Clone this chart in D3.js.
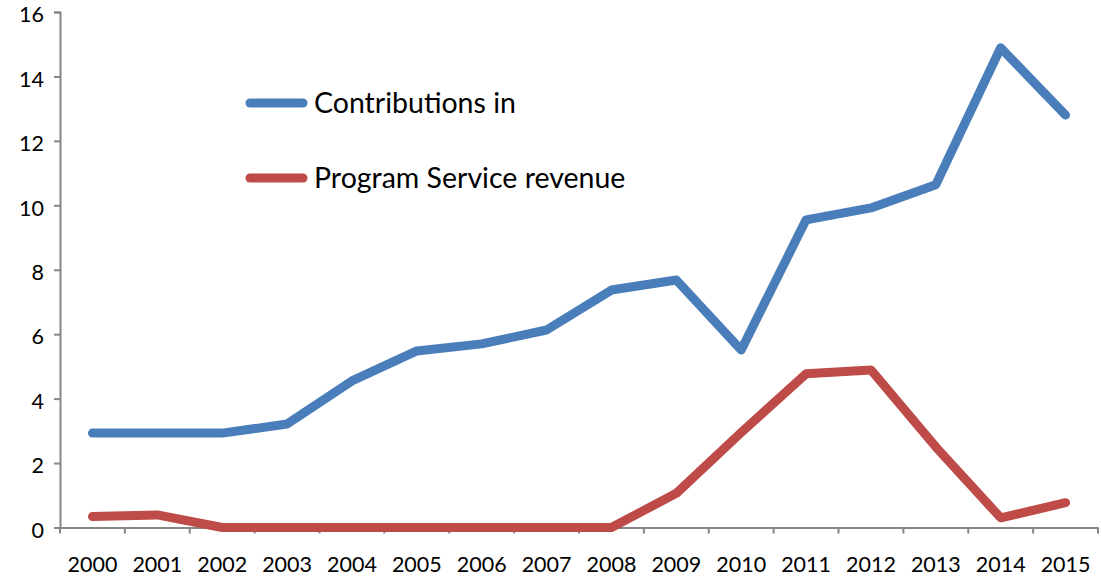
<!DOCTYPE html>
<html><head><meta charset="utf-8">
<script src="https://cdn.jsdelivr.net/npm/d3@7"></script>
<style>body{margin:0;background:#fff;} svg{display:block;font-family:Lato, "Open Sans", sans-serif;}</style>
</head><body>
<svg id="chart" width="1101" height="578"></svg>
<script>
const years = ["2000","2001","2002","2003","2004","2005","2006","2007","2008","2009","2010","2011","2012","2013","2014","2015"];
const contributions = [2.93,2.93,2.93,3.21,4.55,5.48,5.70,6.13,7.37,7.68,5.51,9.55,9.92,10.64,14.89,12.8];
const programService = [0.34,0.39,0,0,0,0,0,0,0,1.06,2.95,4.77,4.89,2.5,0.3,0.77];
const yTicks = [0,2,4,6,8,10,12,14,16];
const seriesNames = ["Contributions in","Program Service revenue"];
const colors = ["#4A7EBB","#BE4B48"];

const svg = d3.select("#chart");
const x = d3.scaleBand().domain(years).range([60,1098]);
const y = d3.scaleLinear().domain([0,16]).range([527.5,12]);
const axisColor = "#868686";

const yAxis = svg.append("g").attr("transform","translate(60,0)")
  .call(d3.axisLeft(y).tickValues(yTicks).tickSize(6).tickPadding(8));
const xAxis = svg.append("g").attr("transform","translate(0,527.5)")
  .call(d3.axisBottom(x).tickSize(0).tickPadding(29));
// band boundary ticks
xAxis.selectAll(".bt").data(years.concat(["end"])).enter().append("line")
  .attr("x1",(d,i)=> i<years.length ? x(d) : x.range()[1])
  .attr("x2",(d,i)=> i<years.length ? x(d) : x.range()[1])
  .attr("y1",0).attr("y2",6).attr("stroke",axisColor).attr("stroke-width",2);
[yAxis,xAxis].forEach(a=>{
  a.selectAll("path.domain").attr("stroke",axisColor).attr("stroke-width",2);
  a.selectAll(".tick line").attr("stroke",axisColor).attr("stroke-width",2);
  a.selectAll("text").attr("fill","#000").style("font-size","21.5px").style("font-family","Lato, 'Open Sans', sans-serif");
});
yAxis.selectAll("text").attr("dx","-2").attr("dy","0.45em");

const line = d3.line().x((d,i)=>x(years[i])+x.bandwidth()/2).y(d=>y(d));
[contributions, programService].forEach((s,k)=>{
  svg.append("path").datum(s).attr("d",line).attr("fill","none")
    .attr("stroke",colors[k]).attr("stroke-width",9)
    .attr("stroke-linejoin","round").attr("stroke-linecap","round");
});

const lg = svg.append("g");
seriesNames.forEach((n,k)=>{
  const yy = 103 + k*75;
  lg.append("line").attr("x1",250).attr("x2",303).attr("y1",yy).attr("y2",yy)
    .attr("stroke",colors[k]).attr("stroke-width",9).attr("stroke-linecap","round");
  lg.append("text").attr("x",314).attr("y",yy).attr("dy","0.36em")
    .style("font-size","28.5px").attr("fill","#000").text(n);
});
</script>
</body></html>
